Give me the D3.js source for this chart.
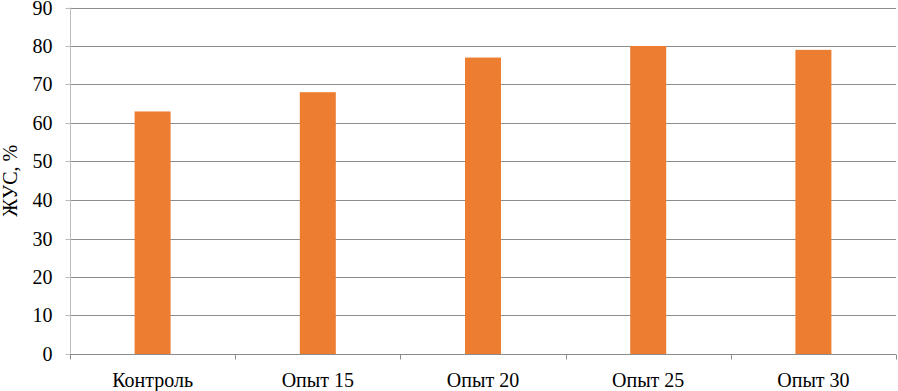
<!DOCTYPE html>
<html>
<head>
<meta charset="utf-8">
<script src="https://cdn.jsdelivr.net/npm/d3@7"></script>
<style>
  html, body { margin: 0; padding: 0; background: #fff; }
  svg text { font-family: "Liberation Serif", "Times New Roman", "DejaVu Serif", serif !important; }
</style>
</head>
<body>
<div id="chart"></div>
<script>
// data
var categories = ["Контроль", "Опыт 15", "Опыт 20", "Опыт 25", "Опыт 30"];
var values = [63, 68, 77, 80, 79];
var yTicks = [0, 10, 20, 30, 40, 50, 60, 70, 80, 90];
var yTitle = "ЖУС, %";

var width = 898, height = 391;
// plot area (note: "top" is reserved on window, so use plot* names)
var plotLeft = 70, plotRight = 896, plotTop = 7.5, plotBottom = 354;

var svg = d3.select("#chart").append("svg")
  .attr("width", width)
  .attr("height", height)
  .style("display", "block");

var x = d3.scaleBand()
  .domain(categories)
  .range([plotLeft, plotRight])
  .paddingInner(0)
  .paddingOuter(0);

var y = d3.scaleLinear()
  .domain([0, 90])
  .range([plotBottom, plotTop]);

// gridlines
svg.append("g")
  .selectAll("line")
  .data(yTicks.filter(d => d > 0))
  .enter().append("line")
    .attr("x1", plotLeft)
    .attr("x2", plotRight)
    .attr("y1", d => Math.round(y(d)) + 0.5)
    .attr("y2", d => Math.round(y(d)) + 0.5)
    .attr("stroke", "#8c8c8c")
    .attr("stroke-width", 1);

// y axis
var yAxis = svg.append("g")
  .attr("transform", "translate(" + (plotLeft + 0.5) + ",0)")
  .call(d3.axisLeft(y).tickValues(yTicks).tickSize(5).tickPadding(13));
yAxis.select(".domain").attr("stroke", "#bdbdbd").attr("d", "M0," + plotTop + "V" + plotBottom);
yAxis.selectAll(".tick line").attr("stroke", "#bdbdbd");
yAxis.selectAll(".tick text")
  .attr("font-size", "20px")
  .attr("fill", "#000");
yAxis.selectAll(".tick")
  .attr("transform", d => "translate(0," + (Math.round(y(d)) + 0.5) + ")");

// bars
var barW = 36;
svg.append("g")
  .selectAll("rect")
  .data(values)
  .enter().append("rect")
    .attr("x", (d, i) => x(categories[i]) + x.bandwidth() / 2 - barW / 2)
    .attr("y", d => y(d))
    .attr("width", barW)
    .attr("height", d => plotBottom - y(d))
    .attr("fill", "#ed7d31");

// x axis
var xAxis = svg.append("g")
  .attr("transform", "translate(0," + (Math.round(plotBottom) + 0.5) + ")");
xAxis.append("line")
  .attr("x1", plotLeft).attr("x2", plotRight)
  .attr("stroke", "#8c8c8c");
xAxis.selectAll("line.tk")
  .data(categories.concat([null]))
  .enter().append("line")
    .attr("class", "tk")
    .attr("x1", (d, i) => Math.round(plotLeft + i * x.bandwidth()) + 0.5)
    .attr("x2", (d, i) => Math.round(plotLeft + i * x.bandwidth()) + 0.5)
    .attr("y1", 0).attr("y2", 5)
    .attr("stroke", "#8c8c8c");
xAxis.selectAll("text")
  .data(categories)
  .enter().append("text")
    .attr("x", d => x(d) + x.bandwidth() / 2)
    .attr("y", 32)
    .attr("text-anchor", "middle")
    .attr("font-size", "20px")
    .attr("fill", "#000")
    .text(d => d);

// y title
svg.append("text")
  .attr("transform", "translate(17," + ((plotTop + plotBottom) / 2) + ") rotate(-90)")
  .attr("text-anchor", "middle")
  .attr("font-size", "20px")
  .attr("fill", "#000")
  .text(yTitle);
</script>
</body>
</html>
